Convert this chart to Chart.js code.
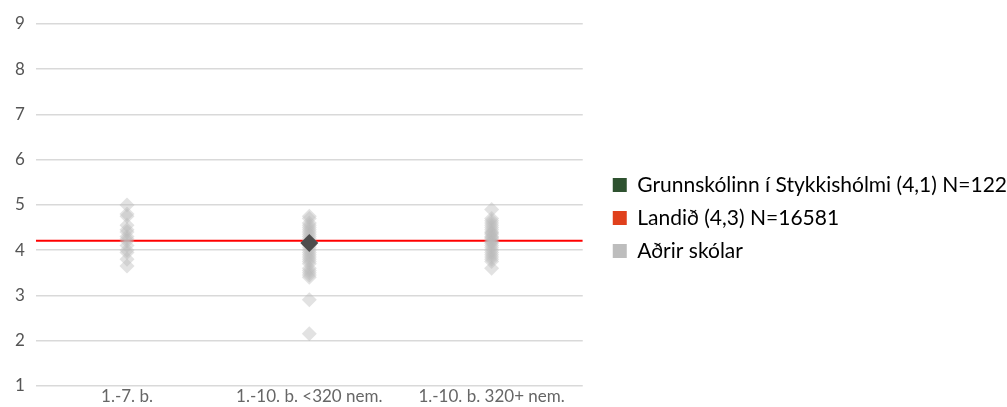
<!DOCTYPE html>
<html>
<head>
<meta charset="utf-8">
<script src="https://cdn.jsdelivr.net/npm/chart.js@4/dist/chart.umd.min.js"></script>
<style>
  html, body { margin: 0; padding: 0; background: #fff; }
  #wrap { width: 1007px; height: 407px; position: relative; }
</style>
</head>
<body>
<div id="wrap"><canvas id="skolaChart"></canvas></div>
<script>
// Flokkar á x-ás
const categories = ['1.-7. b.', '1.-10. b. <320 nem.', '1.-10. b. 320+ nem.'];
const yTicks = [1, 2, 3, 4, 5, 6, 7, 8, 9];

// Aðrir skólar - eitt gildi á hvern skóla, eftir flokki
const otherSmall = [5.0, 4.8, 4.75, 4.55, 4.45, 4.4, 4.3, 4.25, 4.2, 4.1, 4.0, 3.95, 3.8, 3.65];
const otherMid = [4.75, 4.7, 4.6, 4.55, 4.5, 4.45, 4.4, 4.35, 4.3, 4.25, 4.2, 4.15, 4.1, 4.05,
                  4.0, 3.95, 3.9, 3.85, 3.8, 3.75, 3.7, 3.6, 3.55, 3.5, 3.45, 3.4, 2.9, 2.15];
const otherLarge = [4.9, 4.7, 4.65, 4.6, 4.55, 4.5, 4.45, 4.4, 4.38, 4.35, 4.3, 4.28, 4.25, 4.2,
                    4.18, 4.15, 4.1, 4.05, 4.0, 3.95, 3.9, 3.85, 3.8, 3.75, 3.6];

// Skólinn sjálfur og landsmeðaltal
const schoolCategory = 1;
const schoolValue = 4.16;
const nationalValue = 4.21;

const legendNames = ['Grunnskólinn í Stykkishólmi (4,1) N=122', 'Landið (4,3) N=16581', 'Aðrir skólar'];
const legendColors = ['#2e5230', '#e0401c', '#bdbdbd'];

const otherPoints = [];
[otherSmall, otherMid, otherLarge].forEach((vals, i) => {
    vals.forEach(v => otherPoints.push({ x: i, y: v }));
});

const ctx = document.getElementById('skolaChart').getContext('2d');
new Chart(ctx, {
    type: 'scatter',
    data: {
        datasets: [
            {
                label: legendNames[0],
                data: [{ x: schoolCategory, y: schoolValue }],
                pointStyle: 'rectRot',
                pointRadius: 9,
                backgroundColor: '#4d4d4d',
                borderColor: '#4d4d4d',
                borderWidth: 0,
                order: 0
            },
            {
                label: legendNames[2],
                data: otherPoints,
                pointStyle: 'rectRot',
                pointRadius: 7.5,
                backgroundColor: 'rgba(185,185,185,0.42)',
                borderWidth: 0,
                order: 1
            },
            {
                label: legendNames[1],
                type: 'line',
                data: [{ x: -0.5, y: nationalValue }, { x: 2.5, y: nationalValue }],
                borderColor: '#ff0000',
                borderWidth: 2,
                pointRadius: 0,
                order: 2
            }
        ]
    },
    options: {
        responsive: true,
        maintainAspectRatio: false,
        animation: false,
        layout: { padding: { top: 24, left: 4, right: -10, bottom: -5 } },
        plugins: {
            tooltip: { enabled: false },
            legend: {
                position: 'right',
                maxWidth: 600,
                labels: {
                    boxWidth: 14,
                    boxHeight: 14,
                    padding: 12,
                    color: '#555',
                    font: { family: 'Lato', size: 21 },
                    generateLabels: () => legendNames.map((name, i) => ({
                        text: name,
                        fillStyle: legendColors[i],
                        strokeStyle: legendColors[i],
                        lineWidth: 0,
                        hidden: false,
                        datasetIndex: i
                    }))
                }
            }
        },
        scales: {
            x: {
                type: 'linear',
                min: -0.5,
                max: 2.5,
                grid: { display: false, drawTicks: false },
                border: { display: false },
                afterBuildTicks: axis => { axis.ticks = categories.map((c, i) => ({ value: i })); },
                ticks: {
                    padding: 1,
                    color: '#666',
                    font: { family: 'Lato', size: 17 },
                    callback: v => categories[v]
                }
            },
            y: {
                min: 1,
                max: 9,
                afterBuildTicks: axis => { axis.ticks = yTicks.map(v => ({ value: v })); },
                grid: { color: '#d9d9d9', lineWidth: 1.5, drawTicks: false },
                border: { display: false },
                ticks: {
                    padding: 11,
                    color: '#555',
                    font: { family: 'Lato', size: 17 }
                }
            },
            // tómt bil milli teiknisvæðis og skýringa
            gap: {
                type: 'linear',
                position: 'right',
                grid: { display: false, drawTicks: false },
                border: { display: false },
                ticks: { display: false },
                afterFit: axis => { axis.width = 18; }
            }
        }
    }
});
</script>
</body>
</html>
